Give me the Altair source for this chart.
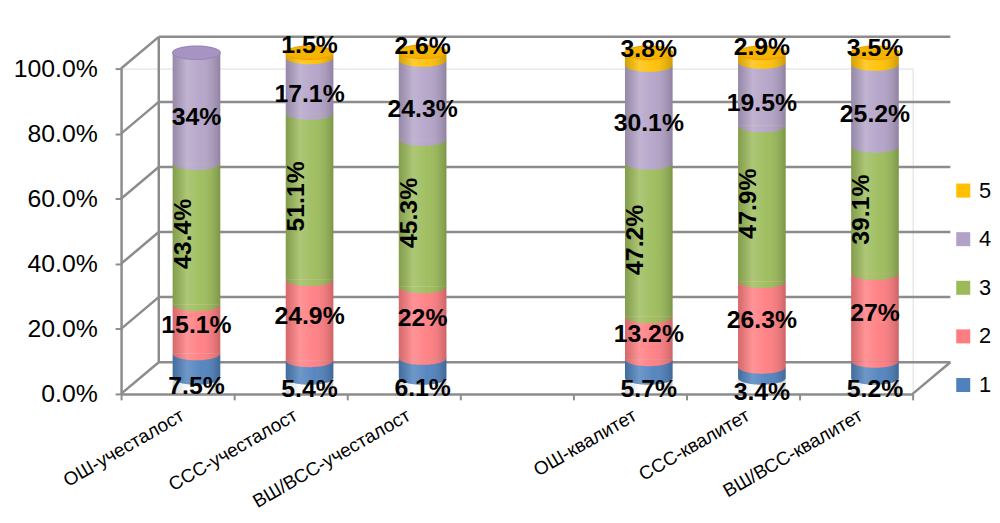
import math
import altair as alt
import pandas as pd

# ---------------- data ----------------
categories = ["ОШ-учесталост", "ССС-учесталост", "ВШ/ВСС-учесталост", " ",
              "ОШ-квалитет", "ССС-квалитет", "ВШ/ВСС-квалитет"]
series_names = ["1", "2", "3", "4", "5"]
s1 = [7.5, 5.4, 6.1, None, 5.7, 3.4, 5.2]
s2 = [15.1, 24.9, 22.0, None, 13.2, 26.3, 27.0]
s3 = [43.4, 51.1, 45.3, None, 47.2, 47.9, 39.1]
s4 = [34.0, 17.1, 24.3, None, 30.1, 19.5, 25.2]
s5 = [0.0, 1.5, 2.6, None, 3.8, 2.9, 3.5]
colors = ["#4F81BD", "#FF7C80", "#9BBB59", "#B3A2C7", "#FFC000"]
ticks = [0, 20, 40, 60, 80, 100]

all_series = [s1, s2, s3, s4, s5]

rows = []
tops = []
for i, c in enumerate(categories):
    cum = 0.0
    last = None
    for k, sname in enumerate(series_names):
        v = all_series[k][i]
        if v is None or v == 0:
            continue
        rows.append({"cat": c, "s": sname, "v": v, "y0": cum, "y1": cum + v,
                     "mid": cum + v / 2, "label": f"{v:g}%"})
        cum += v
        last = sname
    if last is not None:
        tops.append({"cat": c, "s": last, "total": cum})

df = pd.DataFrame(rows)
tops_df = pd.DataFrame(tops)
ticks_df = pd.DataFrame({"t": ticks})

# ---------------- geometry / style ----------------
W, H = 798, 328
DX, DY = 38, -32          # depth of 3D box (back wall)
MX, MY = 19, -16          # cylinders sit half-way in depth
BW = 48                   # cylinder diameter
GRID = "#8C8C8C"
FONT = "Liberation Sans"


def ellipse_path(ry, half):
    n = 40
    pts = []
    end = math.pi if half else 2 * math.pi
    for j in range(n + 1):
        t = end * j / n
        pts.append((math.cos(t), ry * math.sin(t)))
    d = "M" + " L".join(f"{x:.4f},{y:.4f}" for x, y in pts) + " Z"
    return d


half_shape = ellipse_path(0.28, True)
full_shape = ellipse_path(0.28, False)

xenc = alt.X("cat:N", sort=categories, scale=alt.Scale(domain=categories, paddingInner=0, paddingOuter=0),
             axis=alt.Axis(title=None, labelAngle=-30, labelAlign="right", labelBaseline="top",
                           labelPadding=6, labelFontSize=19, labelFont=FONT, labelColor="#000000",
                           labelLimit=0,
                           tickBand="extent", tickSize=6, tickColor=GRID, tickWidth=2,
                           domainColor=GRID, domainWidth=2.5))
yscale = alt.Scale(domain=[0, 100], nice=False, zero=True)
yaxis = alt.Axis(title=None, values=ticks, labelExpr="format(datum.value, '.1f') + '%'",
                 labelFontSize=25, labelFont=FONT, labelColor="#000000", labelPadding=18,
                 tickSize=6, tickColor=GRID, tickWidth=2, domainColor=GRID, domainWidth=2.5, grid=False)

color_scale = alt.Scale(domain=["5", "4", "3", "2", "1"], range=colors[::-1])

base = alt.Chart(df)

# back wall gridlines
back_grid = alt.Chart(ticks_df).mark_rule(color=GRID, strokeWidth=2.5, yOffset=DY, y2Offset=DY).encode(
    y=alt.Y("t:Q", scale=yscale, axis=yaxis),
    x=alt.value(DX), x2=alt.value(W + DX))
# side wall diagonals
side_diag = alt.Chart(ticks_df).mark_rule(color=GRID, strokeWidth=2.5, y2Offset=DY).encode(
    y=alt.Y("t:Q", scale=yscale), y2="t:Q",
    x=alt.value(0), x2=alt.value(DX))
# back vertical edge of side wall
side_back = alt.Chart(ticks_df).mark_rule(color=GRID, strokeWidth=2.5, yOffset=DY, y2Offset=DY).encode(
    y=alt.Y("min(t):Q", scale=yscale), y2="max(t):Q", x=alt.value(DX))
# floor right diagonal
floor_right = alt.Chart(ticks_df).transform_filter("datum.t == 0").mark_rule(
    color=GRID, strokeWidth=2.5, y2Offset=DY).encode(
    y=alt.Y("t:Q", scale=yscale), y2="t:Q", x=alt.value(W), x2=alt.value(W + DX))

# cylinder segments
segments = base.mark_bar(width=BW, xOffset=MX, yOffset=MY, y2Offset=MY, opacity=1).encode(
    x=xenc,
    y=alt.Y("y0:Q", scale=yscale), y2="y1:Q",
    color=alt.Color("s:N", scale=color_scale,
                    legend=alt.Legend(title=None, orient="none", legendX=838, legendY=112,
                                      symbolType="square", symbolSize=200, symbolStrokeWidth=0,
                                      labelFontSize=22, labelFont=FONT, labelColor="#000000",
                                      rowPadding=27, labelOffset=5)))
# lower rim of each segment
rims = base.mark_point(shape=half_shape, size=BW * BW, filled=True, opacity=1, strokeWidth=0,
                       xOffset=MX, yOffset=MY).encode(
    x=xenc, y=alt.Y("y0:Q", scale=yscale),
    color=alt.Color("s:N", scale=color_scale))

shade_grad = alt.Gradient(
    gradient="linear", x1=0, x2=1, y1=0, y2=0,
    stops=[alt.GradientStop(offset=0, color="rgba(0,0,0,0.16)"),
           alt.GradientStop(offset=0.3, color="rgba(255,255,255,0.18)"),
           alt.GradientStop(offset=0.6, color="rgba(255,255,255,0.05)"),
           alt.GradientStop(offset=1, color="rgba(0,0,0,0.20)")])
shade = alt.Chart(tops_df).mark_bar(width=BW, xOffset=MX, yOffset=MY, color=shade_grad).encode(
    x=xenc, y=alt.Y("total:Q", scale=yscale), y2=alt.datum(0))

caps = alt.Chart(tops_df).mark_point(shape=full_shape, size=BW * BW, filled=True, opacity=1,
                                     strokeWidth=1.2, xOffset=MX, yOffset=MY).encode(
    x=xenc, y=alt.Y("total:Q", scale=yscale),
    fill=alt.condition("datum.s == '5'", alt.value("#F5B400"), alt.value("#A894C4")),
    stroke=alt.condition("datum.s == '5'", alt.value("#F7A000"), alt.value("#9A86B8")))

label_dy = {"1": 20, "2": -4, "3": -14, "4": 9, "5": -10}
label_layers = []
for sname in series_names:
    angle = 270 if sname == "3" else 0
    lay = base.transform_filter(f"datum.s == '{sname}'").mark_text(
        font=FONT, fontWeight="bold", fontSize=25, color="#000000", angle=angle,
        xOffset=MX, yOffset=MY, dy=label_dy[sname], align="center", baseline="middle").encode(
        x=xenc, y=alt.Y("mid:Q", scale=yscale), text="label:N")
    label_layers.append(lay)

chart = alt.layer(back_grid, side_diag, side_back, floor_right, segments, rims, shade, caps,
                  *label_layers).properties(
    width=W, height=H,
    autosize=alt.AutoSizeParams(type="none"),
    padding={"left": 114, "top": 59, "right": 80, "bottom": 120},
).configure_view(stroke=None).configure(background="white")

chart.save("out.html", embed_options={"renderer": "svg", "actions": False})
